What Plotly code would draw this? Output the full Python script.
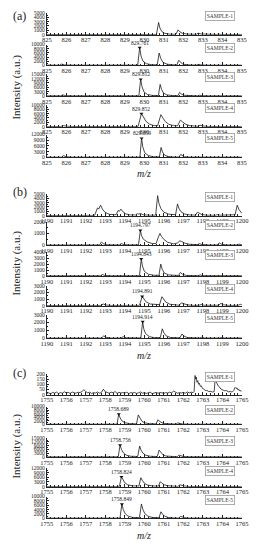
import numpy as np
import plotly.graph_objects as go

W, H = 265, 550

# ---------------- Panel (a): m/z 825-835 ----------------
A_XTICKS = list(range(825, 836))
A1 = [(825.0,30),(825.7,30),(825.78,120),(825.9,40),(826.5,30),(826.6,100),(826.75,30),(827.6,30),(827.7,120),
      (827.85,30),(828.6,30),(828.7,80),(828.85,30),(830.62,40),(830.73,2800),(830.8,1500),(830.9,700),(831.05,300),
      (831.3,100),(831.62,80),(831.73,1100),(831.82,650),(831.95,300),(832.2,120),(832.66,60),(832.76,350),(832.9,150),
      (833.2,50),(833.7,40),(833.8,120),(833.95,40),(834.7,40),(834.8,100),(834.95,40),(835.0,30)]
A2 = [(825.0,50),(825.66,60),(825.76,600),(825.9,200),(826.2,60),(826.7,60),(826.78,200),(826.95,60),(829.66,80),
      (829.761,8500),(829.83,4500),(829.93,2000),(830.1,800),(830.35,300),(830.66,200),(830.76,5900),(830.84,3300),
      (830.95,1500),(831.15,600),(831.4,250),(831.67,150),(831.76,2400),(831.85,1400),(831.97,600),(832.2,200),
      (832.68,80),(832.77,450),(832.9,180),(833.2,60),(835.0,50)]
A3 = [(825.0,60),(825.72,70),(825.81,800),(825.95,250),(826.3,70),(826.75,70),(826.82,250),(827.0,70),(829.72,100),
      (829.812,11500),(829.88,6500),(829.98,2800),(830.15,1100),(830.4,400),(830.72,250),(830.81,8000),(830.88,4600),
      (830.98,2000),(831.15,800),(831.4,300),(831.72,200),(831.81,2500),(831.9,1300),(832.02,500),(832.3,150),
      (832.72,80),(832.82,500),(832.95,180),(833.3,60),(835.0,60)]
A4 = [(825.0,40),(825.72,50),(825.85,450),(826.05,150),(826.4,50),(829.68,80),(829.852,6000),(829.95,4300),
      (830.08,2500),(830.25,1200),(830.5,450),(830.68,400),(830.85,5500),(830.95,4000),(831.08,2300),(831.25,1100),
      (831.5,450),(831.7,350),(831.85,3000),(831.95,2200),(832.1,1200),(832.3,500),(832.6,150),(832.72,120),
      (832.86,600),(833.0,300),(833.3,80),(835.0,40)]
A5 = [(825.0,50),(825.76,60),(825.86,900),(825.98,300),(826.3,60),(829.77,80),(829.859,10000),(829.92,5500),
      (830.02,2400),(830.2,900),(830.45,300),(830.77,200),(830.86,5200),(830.93,2800),(831.03,1200),(831.2,450),
      (831.45,150),(831.77,100),(831.86,1500),(831.94,800),(832.05,300),(832.3,80),(832.78,60),(832.87,300),
      (833.0,100),(833.3,50),(835.0,50)]
A_YMAX = [5000, 10000, 15000, 10000, 12000]
A_YSTEP = [1000, 2000, 3000, 2000, 3000]
A_PEAKS = [None, (829.761, 8500), (829.812, 11500), (829.852, 6000), (829.859, 10000)]
A_LABELS = [None, "829.761", "829.812", "829.852", "829.859"]

# ---------------- Panel (b): m/z 1190-1200 ----------------
B_XTICKS = list(range(1190, 1201))
B1 = [(1190.0,40),(1192.45,50),(1192.6,1800),(1192.66,1500),(1192.76,2400),(1192.85,1500),(1192.98,800),(1193.2,300),
      (1193.55,200),(1193.66,1200),(1193.72,1000),(1193.8,1500),(1193.9,900),(1194.05,400),(1194.3,150),(1194.55,150),
      (1194.65,450),(1194.72,350),(1194.8,500),(1194.95,200),(1195.2,100),(1195.58,100),(1195.68,4600),(1195.75,2800),
      (1195.85,1600),(1196.0,800),(1196.25,350),(1196.6,200),(1196.7,2700),(1196.77,1700),(1196.88,900),(1197.05,400),
      (1197.35,150),(1197.62,120),(1197.72,800),(1197.8,550),(1197.95,250),(1198.2,100),(1198.65,80),(1198.75,250),
      (1198.9,100),(1199.65,200),(1199.76,2400),(1199.85,1400),(1199.95,700),(1200.0,500)]
B2 = [(1190.0,20),(1192.7,25),(1192.8,280),(1192.92,120),(1193.1,40),(1193.72,30),(1193.82,150),(1193.95,60),
      (1194.2,30),(1194.7,40),(1194.797,1250),(1194.86,800),(1194.96,500),(1195.15,280),(1195.4,150),(1195.6,150),
      (1195.72,700),(1195.8,1000),(1195.88,750),(1196.0,500),(1196.2,250),(1196.5,120),(1196.7,200),(1196.82,380),
      (1196.9,330),(1197.05,200),(1197.3,90),(1197.7,60),(1197.82,130),(1197.95,70),(1198.3,30),(1198.72,30),
      (1198.84,200),(1198.95,90),(1199.2,30),(1199.75,30),(1199.85,100),(1200.0,40)]
B3 = [(1190.0,20),(1192.75,30),(1192.85,250),(1192.98,80),(1193.3,30),(1193.75,30),(1193.85,150),(1194.0,40),
      (1194.75,40),(1194.843,2900),(1194.9,1700),(1195.0,800),(1195.2,300),(1195.5,120),(1195.75,120),(1195.84,2000),
      (1195.92,1100),(1196.02,500),(1196.25,180),(1196.75,80),(1196.85,600),(1196.95,300),(1197.15,100),(1197.75,40),
      (1197.86,180),(1198.0,50),(1198.8,40),(1198.87,150),(1199.0,40),(1199.78,30),(1199.88,120),(1200.0,30)]
B4 = [(1190.0,20),(1192.78,30),(1192.9,250),(1193.02,90),(1193.3,30),(1193.8,30),(1193.9,120),(1194.05,40),
      (1194.75,40),(1194.891,1400),(1194.97,1050),(1195.08,600),(1195.3,250),(1195.6,150),(1195.78,150),(1195.9,1350),
      (1195.98,1000),(1196.1,550),(1196.3,220),(1196.6,80),(1196.78,60),(1196.9,420),(1197.0,300),(1197.2,120),
      (1197.5,40),(1197.8,40),(1197.92,180),(1198.05,60),(1198.8,50),(1198.92,350),(1199.05,130),(1199.3,40),
      (1199.8,40),(1199.92,200),(1200.0,120)]
B5 = [(1190.0,20),(1192.8,30),(1192.92,300),(1193.05,120),(1193.3,30),(1193.8,30),(1193.93,200),(1194.08,60),
      (1194.82,40),(1194.914,2100),(1194.97,1200),(1195.06,600),(1195.25,220),(1195.5,80),(1195.82,80),(1195.92,1200),
      (1196.0,700),(1196.12,300),(1196.35,100),(1196.82,60),(1196.93,550),(1197.02,300),(1197.2,100),(1197.82,30),
      (1197.94,120),(1198.1,30),(1198.85,30),(1198.95,100),(1199.1,30),(1199.85,30),(1199.95,80),(1200.0,40)]
B_YMAX = [5000, 2000, 4000, 3000, 3000]
B_YSTEP = [1000, 1000, 1000, 1000, 1000]
B_PEAKS = [None, (1194.797, 1250), (1194.843, 2900), (1194.891, 1400), (1194.914, 2100)]
B_LABELS = [None, "1194.797", "1194.843", "1194.891", "1194.914"]

# ---------------- Panel (c): m/z 1755-1765 ----------------
C_XTICKS = list(range(1755, 1766))
C1_NOISE_MZ = [round(1755.0 + 0.1 * i, 1) for i in range(76)]
C1_NOISE_INT = [12,18,8,22,15,25,10,20,14,28,
                16,22,12,26,18,14,24,20,30,48,
                30,18,24,12,20,16,26,14,22,52,
                28,20,14,24,18,30,12,22,16,20,
                14,24,10,20,16,22,12,18,26,14,
                20,12,18,24,10,16,22,14,20,18,
                12,20,16,24,18,34,22,14,20,16,
                22,14,26,18,24,20]
C1_TAIL = [(1762.55,30),(1762.6,185),(1762.63,150),(1762.66,170),(1762.7,120),(1762.74,135),(1762.78,100),
           (1762.82,110),(1762.87,80),(1762.92,85),(1762.98,60),(1763.05,55),(1763.12,40),(1763.2,42),(1763.3,30),
           (1763.4,32),(1763.5,25),(1763.58,30),(1763.63,150),(1763.67,120),(1763.72,110),(1763.78,85),(1763.85,75),
           (1763.92,55),(1764.0,50),(1764.1,38),(1764.2,40),(1764.3,28),(1764.4,30),(1764.5,25),(1764.58,40),
           (1764.65,70),(1764.7,60),(1764.75,65),(1764.8,45),(1764.85,50),(1764.9,35),(1764.95,40),(1765.0,30)]
C1 = list(zip(C1_NOISE_MZ, C1_NOISE_INT)) + C1_TAIL
C2 = [(1755.0,50),(1758.6,80),(1758.689,5800),(1758.76,3600),(1758.86,1900),(1759.0,900),(1759.25,400),(1759.6,250),
      (1759.69,5300),(1759.77,3300),(1759.87,1800),(1760.0,900),(1760.25,400),(1760.6,200),(1760.7,2600),
      (1760.78,1700),(1760.9,900),(1761.05,450),(1761.3,180),(1761.62,100),(1761.71,800),(1761.8,500),(1761.95,220),
      (1762.2,80),(1762.65,50),(1762.72,200),(1762.85,80),(1765.0,50)]
C3 = [(1755.0,60),(1758.66,100),(1758.756,9500),(1758.83,6000),(1758.93,3200),(1759.07,1500),(1759.3,600),
      (1759.66,400),(1759.76,8700),(1759.83,5500),(1759.93,3000),(1760.07,1400),(1760.3,600),(1760.66,350),
      (1760.76,5500),(1760.84,3500),(1760.95,1800),(1761.1,800),(1761.35,300),(1761.68,150),(1761.77,1500),
      (1761.85,1000),(1761.98,450),(1762.2,150),(1762.7,80),(1762.78,400),(1762.9,150),(1763.2,60),(1765.0,60)]
C4 = [(1755.0,50),(1758.72,90),(1758.824,6300),(1758.9,4400),(1759.0,2500),(1759.15,1200),(1759.4,500),(1759.72,350),
      (1759.82,5700),(1759.9,3900),(1760.0,2200),(1760.15,1100),(1760.4,450),(1760.72,300),(1760.82,3200),
      (1760.9,2200),(1761.02,1200),(1761.2,550),(1761.45,220),(1761.72,150),(1761.83,1200),(1761.92,800),
      (1762.05,400),(1762.3,120),(1762.75,70),(1762.84,350),(1762.97,140),(1763.3,50),(1765.0,50)]
C5 = [(1755.0,50),(1758.75,80),(1758.849,6500),(1758.92,4000),(1759.02,2100),(1759.17,1000),(1759.4,400),
      (1759.75,300),(1759.85,6600),(1759.93,4000),(1760.03,2100),(1760.18,1000),(1760.4,400),(1760.75,250),
      (1760.85,3000),(1760.93,1900),(1761.05,950),(1761.22,400),(1761.5,150),(1761.76,100),(1761.86,900),
      (1761.95,550),(1762.08,250),(1762.3,80),(1762.78,50),(1762.88,250),(1763.0,90),(1765.0,50)]
C_YMAX = [200, 10000, 15000, 12000, 10000]
C_YSTEP = [50, 2000, 3000, 3000, 2000]
C_PEAKS = [None, (1758.689, 5800), (1758.756, 9500), (1758.824, 6300), (1758.849, 6500)]
C_LABELS = [None, "1758.689", "1758.756", "1758.824", "1758.849"]

SAMPLES = ["SAMPLE-1", "SAMPLE-2", "SAMPLE-3", "SAMPLE-4", "SAMPLE-5"]

# ---------------- layout geometry (pixels) ----------------
X_LEFT, X_RIGHT = 42, 248
PANEL_ROWS = [
    [(10, 32), (42, 63), (72, 94), (103, 125), (133, 156)],
    [(193, 215), (221, 245), (252, 276), (286, 306), (315, 339)],
    [(375, 396), (408, 426), (440, 459), (470, 489), (499, 521)],
]
PANEL_TAGS = ["(a)", "(b)", "(c)"]
TAG_Y = [13, 191, 374]
MZ_Y = [172, 356, 538]
YT_Y = [85, 263, 448]

PANELS = [
    (A_XTICKS, [A1, A2, A3, A4, A5], A_YMAX, A_YSTEP, A_PEAKS, A_LABELS),
    (B_XTICKS, [B1, B2, B3, B4, B5], B_YMAX, B_YSTEP, B_PEAKS, B_LABELS),
    (C_XTICKS, [C1, C2, C3, C4, C5], C_YMAX, C_YSTEP, C_PEAKS, C_LABELS),
]

FONT = "Liberation Serif"
LINE_C = "#1a1a1a"


def py(p):
    return 1 - p / H


fig = go.Figure()
layout = dict(width=W, height=H, margin=dict(l=0, r=0, t=0, b=0), showlegend=False,
              paper_bgcolor="white", plot_bgcolor="white", font=dict(family=FONT, color="#222"))
annotations = []
k = 0
for pi, (xt, spectra, ymaxes, ysteps, peaks, labels) in enumerate(PANELS):
    for si in range(5):
        k += 1
        xa = "x" if k == 1 else f"x{k}"
        ya = "y" if k == 1 else f"y{k}"
        xkey = "xaxis" if k == 1 else f"xaxis{k}"
        ykey = "yaxis" if k == 1 else f"yaxis{k}"
        top, bot = PANEL_ROWS[pi][si]
        mz = [p[0] for p in spectra[si]]
        it = [p[1] for p in spectra[si]]
        fig.add_trace(go.Scatter(x=mz, y=it, mode="lines", xaxis=xa, yaxis=ya,
                                 line=dict(color=LINE_C, width=0.8), hoverinfo="skip"))
        ymax = ymaxes[si]
        ystep = ysteps[si]
        layout[xkey] = dict(domain=[X_LEFT / W, X_RIGHT / W], anchor=ya, range=[xt[0], xt[-1]],
                            tickvals=xt, ticktext=[str(v) for v in xt], showline=True, linecolor="#222",
                            linewidth=0.8, ticks="inside", ticklen=3, tickwidth=0.8, tickcolor="#222",
                            minor=dict(ticks="inside", ticklen=1.5, dtick=0.2, tickwidth=0.6, tickcolor="#222"),
                            tickfont=dict(size=6.5, family=FONT, color="#222"), showgrid=False, zeroline=False,
                            ticklabelstandoff=-1, fixedrange=True)
        yticks = list(np.arange(0, ymax + 1, ystep))
        layout[ykey] = dict(domain=[py(bot), py(top)], anchor=xa, range=[0, ymax], tickvals=yticks,
                            ticktext=[str(int(v)) for v in yticks], showline=True, linecolor="#222",
                            linewidth=0.8, ticks="inside", ticklen=2.5, tickwidth=0.8, tickcolor="#222",
                            minor=dict(ticks="inside", ticklen=1.5, dtick=ystep / 2, tickwidth=0.6,
                                       tickcolor="#222"),
                            tickfont=dict(size=5.5, family=FONT, color="#222"), showgrid=False, zeroline=False,
                            fixedrange=True)
        # sample label box
        annotations.append(dict(xref="paper", yref="paper", x=241 / W, y=py(top + 3), xanchor="right",
                                yanchor="middle", text=SAMPLES[si], showarrow=False,
                                font=dict(size=5.5, family=FONT, color="#333"), bordercolor="#999",
                                borderwidth=0.8, borderpad=1, bgcolor="white"))
        if peaks[si] is not None:
            px_, pyv = peaks[si]
            fig.add_trace(go.Scatter(x=[px_], y=[pyv], mode="markers", xaxis=xa, yaxis=ya,
                                     marker=dict(symbol="triangle-down", size=3.5, color="#111"),
                                     hoverinfo="skip", cliponaxis=False))
            annotations.append(dict(xref=xa, yref=ya, x=px_, y=pyv, text=labels[si], showarrow=False,
                                    yanchor="bottom", xanchor="center", yshift=0,
                                    font=dict(size=5.5, family=FONT, color="#222")))
    annotations.append(dict(xref="paper", yref="paper", x=4 / W, y=py(TAG_Y[pi]), xanchor="left",
                            yanchor="middle", text=PANEL_TAGS[pi], showarrow=False,
                            font=dict(size=12, family=FONT, color="#222")))
    annotations.append(dict(xref="paper", yref="paper", x=145 / W, y=py(MZ_Y[pi]), xanchor="center",
                            yanchor="middle", text="<i>m/z</i>", showarrow=False,
                            font=dict(size=10, family=FONT, color="#222")))
    annotations.append(dict(xref="paper", yref="paper", x=10 / W, y=py(YT_Y[pi]), xanchor="center",
                            yanchor="middle", text="Intensity (a.u.)", textangle=-90, showarrow=False,
                            font=dict(size=11, family=FONT, color="#222")))

layout["annotations"] = annotations
fig.update_layout(**layout)
fig.write_html("out.html")
